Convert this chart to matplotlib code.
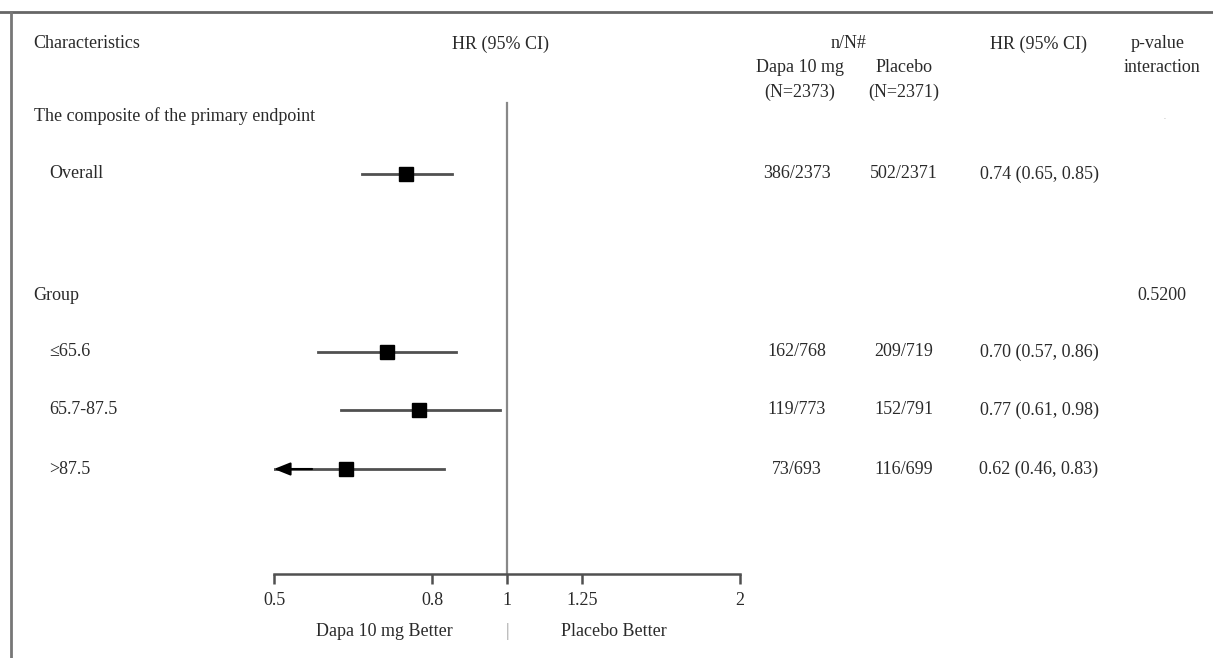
import matplotlib
matplotlib.use('Agg')
import matplotlib.pyplot as plt
from matplotlib.lines import Line2D

plt.rcParams['font.family'] = ['Liberation Serif', 'DejaVu Serif']
plt.rcParams['font.size'] = 13

labels = ['Overall', '\u226465.6', '65.7-87.5', '>87.5']
hr = [0.74, 0.70, 0.77, 0.62]
lo = [0.65, 0.57, 0.61, 0.46]
hi = [0.85, 0.86, 0.98, 0.83]
dapa_n = ['386/2373', '162/768', '119/773', '73/693']
placebo_n = ['502/2371', '209/719', '152/791', '116/699']
p_overall = '-'
p_group = '0.5200'
ticks = [0.5, 0.8, 1, 1.25, 2]
tick_labels = ['0.5', '0.8', '1', '1.25', '2']

W, H = 1213, 658
row_y = [174, 352, 410, 469]
txt = '#2a2a2a'
line_c = '#505050'

fig = plt.figure(figsize=(W / 100, H / 100), dpi=100)


def put(x, y, s, ha='left', **kw):
    kw.setdefault('color', txt)
    fig.text(x / W, 1 - y / H, s, ha=ha, va='center', **kw)


# frame (top and left only)
fig.add_artist(Line2D([0, 1], [1 - 12 / H, 1 - 12 / H], transform=fig.transFigure,
                      color='#666666', lw=2))
fig.add_artist(Line2D([11 / W, 11 / W], [0, 1 - 12 / H], transform=fig.transFigure,
                      color='#777777', lw=2))

# forest axes, y in pixel units
ax = fig.add_axes([274 / W, 0, (740 - 274) / W, 1])
ax.set_xscale('log')
ax.set_xlim(0.5, 2)
ax.set_ylim(H, 0)
for s in ['top', 'right', 'left']:
    ax.spines[s].set_visible(False)
ax.spines['bottom'].set_position(('data', 574))
ax.spines['bottom'].set_color(line_c)
ax.spines['bottom'].set_linewidth(1.8)
ax.set_yticks([])
ax.set_xticks(ticks)
ax.set_xticklabels(tick_labels)
ax.minorticks_off()
ax.tick_params(axis='x', direction='out', length=7, width=1.8, color=line_c,
               labelcolor=txt, labelsize=13, pad=6)
ax.patch.set_alpha(0)

ax.plot([1, 1], [103, 574], color='#888888', lw=1.6)

for y, h, l, u in zip(row_y, hr, lo, hi):
    left = max(l, 0.5)
    ax.plot([left, u], [y, y], color=line_c, lw=2, zorder=2)
    if l < 0.5:
        # CI runs past the axis: arrow at the left edge
        ax.annotate('', xy=(0.5, y), xytext=(0.56, y), annotation_clip=False,
                    arrowprops=dict(arrowstyle='-|>,head_length=0.55,head_width=0.22',
                                    color='black', lw=1.5, mutation_scale=18,
                                    shrinkA=0, shrinkB=0))
    ax.plot([h], [y], marker='s', color='black', markersize=9.5, zorder=4)

ax.text(0.694, 631, 'Dapa 10 mg Better', ha='center', va='center', color=txt)
ax.text(1, 631, '|', ha='center', va='center', color='#999999')
ax.text(1.375, 631, 'Placebo Better', ha='center', va='center', color=txt)

# header
put(33, 44, 'Characteristics')
put(501, 44, 'HR (95% CI)', ha='center')
put(849, 44, 'n/N#', ha='center')
put(800, 68, 'Dapa 10 mg', ha='center')
put(800, 92, '(N=2373)', ha='center')
put(904, 68, 'Placebo', ha='center')
put(904, 92, '(N=2371)', ha='center')
put(1038, 44, 'HR (95% CI)', ha='center')
put(1158, 44, 'p-value', ha='center')
put(1162, 68, 'interaction', ha='center')

put(34, 116, 'The composite of the primary endpoint')
put(1165, 119, p_overall, ha='center', fontsize=4, color='#aaaaaa')
put(33, 295, 'Group')
put(1162, 295, p_group, ha='center')

for i, y in enumerate(row_y):
    put(49, y, labels[i])
    put(797, y, dapa_n[i], ha='center')
    put(904, y, placebo_n[i], ha='center')
    put(1039, y, f'{hr[i]:.2f} ({lo[i]:.2f}, {hi[i]:.2f})', ha='center')

fig.savefig('out.png', dpi=100)
